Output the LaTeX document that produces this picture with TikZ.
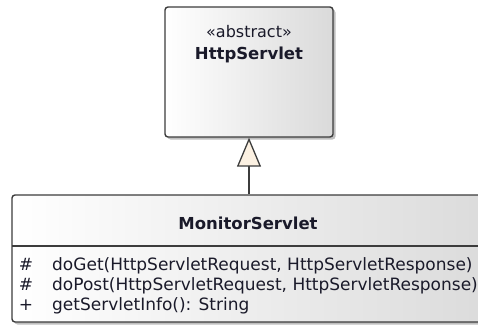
\documentclass[tikz,border=0pt]{standalone}
\usepackage{fontspec}
\setmainfont{DejaVu Sans}
\usetikzlibrary{arrows.meta,shadows}

\definecolor{umlline}{HTML}{3C3C3C}
\definecolor{umltext}{HTML}{1A1A2A}
\definecolor{umlgray}{HTML}{DADADA}
\definecolor{arrowfill}{HTML}{FCF1E2}

\tikzset{
	classbox/.style={rectangle,rounded corners=3pt,draw=umlline,line width=1.4pt,
		left color=white,right color=umlgray,
		drop shadow={shadow xshift=2.5pt,shadow yshift=-2.5pt,fill=black,opacity=0.25}},
	classname/.style={text=umltext,font=\fontsize{16.5pt}{18pt}\selectfont\bfseries,inner sep=0pt},
	stereotype/.style={text=umltext,font=\fontsize{16pt}{18pt}\selectfont,inner sep=0pt},
	member/.style={text=umltext,font=\fontsize{17pt}{20pt}\selectfont,inner sep=0pt,anchor=base west},
	visibility/.style={text=umltext,font=\fontsize{17pt}{20pt}\selectfont,inner sep=0pt,anchor=base},
	generalization/.style={draw=umlline,line width=1.3pt,
		-{Triangle[length=29pt,width=24pt,fill=arrowfill]}}
}

\begin{document}
\begin{tikzpicture}[x=1pt,y=-1pt]
			\useasboundingbox (0,0) rectangle (478,324);
			\node[classbox,minimum width=168pt,minimum height=130pt] (httpservlet) at (249,72) {};
			\node[stereotype] (abstract) at (249,32) {«abstract»};
			\node[classname] (hsname) at (249,55) {HttpServlet};
			
			\node[classbox,minimum width=490pt,minimum height=127pt] (monitor) at (257,258.5) {};
			\node[classname] (msname) at (248,223) {MonitorServlet};
			\coordinate (sepl) at (12,246);
			\coordinate (sepr) at (502,246);
			\draw[umlline,line width=1.4pt] (sepl) -- (sepr);
			
			\node[visibility] (vis1) at (26,270) {\#};
			\node[visibility] (vis2) at (26,290) {\#};
			\node[visibility] (vis3) at (26,310) {+};
			\node[member] (op1) at (52,270) {doGet(HttpServletRequest, HttpServletResponse)};
			\node[member] (op2) at (52,290) {doPost(HttpServletRequest, HttpServletResponse)};
			\node[member] (op3) at (52,310) {getServletInfo(): String};
			
			\path[generalization] (monitor.north -| httpservlet.south) -- (httpservlet.south);
		\end{tikzpicture}
\end{document}
